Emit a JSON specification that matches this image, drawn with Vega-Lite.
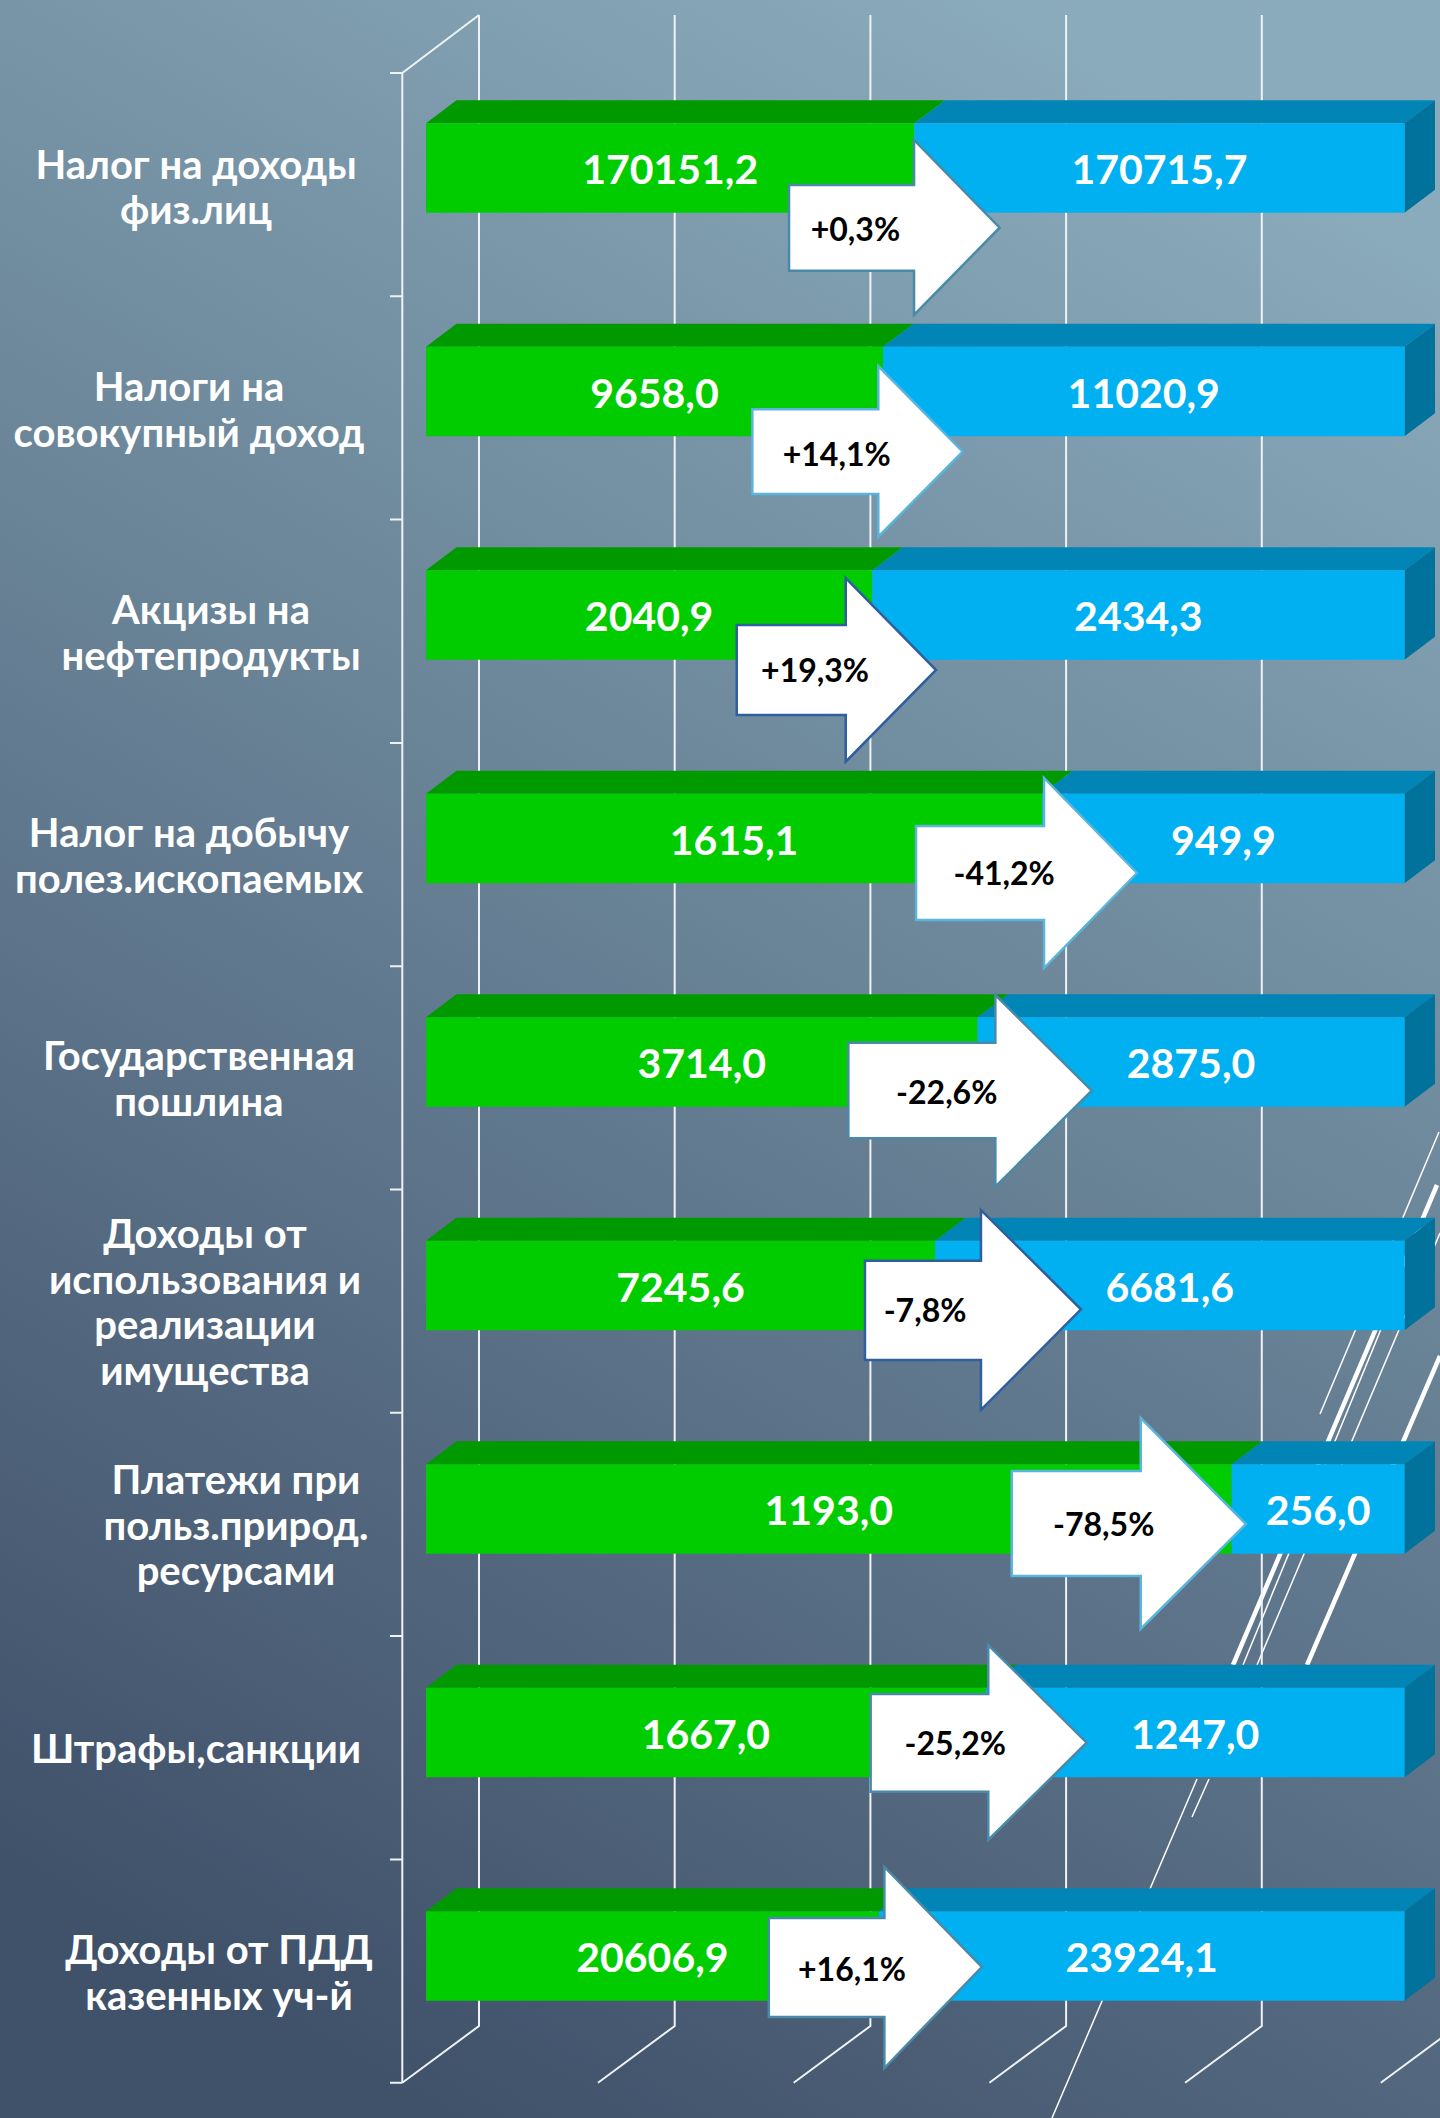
{
"$schema":"https://vega.github.io/schema/vega-lite/v6.json",
"width":1440,"height":2118,"padding":0,
"autosize":"none",
"background":"#62798c",
"config":{"view":{"stroke":null,"fill":{"gradient":"linear","x1":0.7,"y1":0,"x2":0.3,"y2":1,"stops":[{"offset":0,"color":"#8aabbb"},{"offset":1,"color":"#40516a"}]}}},
"params":[
{"name":"labelDx","value":[-230,-237,-215,-237,-227,-221,-190,-230,-207]},
{"name":"labelDy","value":[-1.5,-2.3,-2.8,-3.4,-4,-49.2,-26.8,18,-3.7]},
{"name":"chgDx","value":[-59,-46.3,-57.2,-38,-30.8,-10,-127.9,-30.5,-26.8]},
{"name":"chgDy","value":[62.5,64,57.2,36,31.5,26.5,16.5,12,14.5]}
],
"datasets":{
"ticks":[{"tick":0},{"tick":0.2},{"tick":0.4},{"tick":0.6},{"tick":0.8},{"tick":1}],
"rows":[
{"n":0,"label":"Налог на доходы\nфиз.лиц","series":"a","value":170151.2,"text":"170151,2","change":"+0,3%"},
{"n":0,"label":"Налог на доходы\nфиз.лиц","series":"b","value":170715.7,"text":"170715,7","change":"+0,3%"},
{"n":1,"label":"Налоги на\nсовокупный доход","series":"a","value":9658.0,"text":"9658,0","change":"+14,1%"},
{"n":1,"label":"Налоги на\nсовокупный доход","series":"b","value":11020.9,"text":"11020,9","change":"+14,1%"},
{"n":2,"label":"Акцизы на\nнефтепродукты","series":"a","value":2040.9,"text":"2040,9","change":"+19,3%"},
{"n":2,"label":"Акцизы на\nнефтепродукты","series":"b","value":2434.3,"text":"2434,3","change":"+19,3%"},
{"n":3,"label":"Налог на добычу\nполез.ископаемых","series":"a","value":1615.1,"text":"1615,1","change":"-41,2%"},
{"n":3,"label":"Налог на добычу\nполез.ископаемых","series":"b","value":949.9,"text":"949,9","change":"-41,2%"},
{"n":4,"label":"Государственная\nпошлина","series":"a","value":3714.0,"text":"3714,0","change":"-22,6%"},
{"n":4,"label":"Государственная\nпошлина","series":"b","value":2875.0,"text":"2875,0","change":"-22,6%"},
{"n":5,"label":"Доходы от\nиспользования  и\nреализации\nимущества","series":"a","value":7245.6,"text":"7245,6","change":"-7,8%"},
{"n":5,"label":"Доходы от\nиспользования  и\nреализации\nимущества","series":"b","value":6681.6,"text":"6681,6","change":"-7,8%"},
{"n":6,"label":"Платежи при\nпольз.природ.\nресурсами","series":"a","value":1193.0,"text":"1193,0","change":"-78,5%"},
{"n":6,"label":"Платежи при\nпольз.природ.\nресурсами","series":"b","value":256.0,"text":"256,0","change":"-78,5%"},
{"n":7,"label":"Штрафы,санкции","series":"a","value":1667.0,"text":"1667,0","change":"-25,2%"},
{"n":7,"label":"Штрафы,санкции","series":"b","value":1247.0,"text":"1247,0","change":"-25,2%"},
{"n":8,"label":"Доходы от ПДД\nказенных уч-й","series":"a","value":20606.9,"text":"20606,9","change":"+16,1%"},
{"n":8,"label":"Доходы от ПДД\nказенных уч-й","series":"b","value":23924.1,"text":"23924,1","change":"+16,1%"}
]},
"data":{"name":"rows"},
"transform":[
{"stack":"value","groupby":["n"],"sort":[{"field":"series","order":"ascending"}],"offset":"normalize","as":["x0","x1"]},
{"calculate":"(datum.x0+datum.x1)/2","as":"xm"}
],
"resolve":{"scale":{"shape":"independent","color":"independent","stroke":"independent"}},
"layer":[
{"data":{"name":"ticks"},"transform":[{"filter":"datum.tick==0"}],
 "mark":{"type":"point","size":4,"filled":false,"fill":null,"stroke":"#ffffff","strokeWidth":1.5,"opacity":1,"shape":"M35.5,-723L-147.5,-291M34.5,-824L-84.5,-542M-11.5,-656L-161.5,-291M-207.5,-177L-352.5,162M-195.5,-177L-212.5,-139"},
 "encoding":{"x":{"datum":1,"type":"quantitative","scale":{"domain":[0,1],"range":[426,1404.5]},"axis":null},
  "y":{"datum":"Доходы от ПДД\nказенных уч-й","type":"nominal","scale":{"type":"band","domain":["Налог на доходы\nфиз.лиц","Налоги на\nсовокупный доход","Акцизы на\nнефтепродукты","Налог на добычу\nполез.ископаемых","Государственная\nпошлина","Доходы от\nиспользования  и\nреализации\nимущества","Платежи при\nпольз.природ.\nресурсами","Штрафы,санкции","Доходы от ПДД\nказенных уч-й"],"range":[56.25,2067.75],"paddingInner":0,"paddingOuter":0},"axis":null}}},
{"data":{"name":"ticks"},"transform":[{"filter":"datum.tick==0"}],
 "mark":{"type":"point","size":4,"filled":false,"fill":null,"stroke":"#ffffff","strokeWidth":4.5,"opacity":1,"shape":"M32.5,-771L-171.5,-291M35.5,-600L-97.5,-291"},
 "encoding":{"x":{"datum":1,"type":"quantitative"},"y":{"datum":"Доходы от ПДД\nказенных уч-й","type":"nominal"}}},
{"data":{"name":"ticks"},
 "mark":{"type":"point","size":4,"filled":false,"fill":null,"stroke":"#eef2f4","strokeWidth":2,"opacity":1,"shape":"M-23.7,126.7L53,70L53,-1941"},
 "encoding":{"x":{"field":"tick","type":"quantitative"},"y":{"datum":"Доходы от ПДД\nказенных уч-й","type":"nominal"}}},
{"data":{"name":"ticks"},"transform":[{"filter":"datum.tick==0"}],
 "mark":{"type":"point","size":4,"filled":false,"fill":null,"stroke":"#eef2f4","strokeWidth":2,"opacity":1,"shape":"M-23.7,126.7L-23.7,-1883L53,-1941M-36,126.7H-23.7M-36,-96.6H-23.7M-36,-319.9H-23.7M-36,-543.2H-23.7M-36,-766.5H-23.7M-36,-989.8H-23.7M-36,-1213.1H-23.7M-36,-1436.4H-23.7M-36,-1659.7H-23.7M-36,-1883H-23.7"},
 "encoding":{"x":{"field":"tick","type":"quantitative"},"y":{"datum":"Доходы от ПДД\nказенных уч-й","type":"nominal"}}},
{"transform":[{"filter":"datum.series=='b'"}],
 "mark":{"type":"point","size":4,"filled":true,"fill":"#0085b6","stroke":null,"opacity":1},
 "encoding":{"x":{"field":"x0","type":"quantitative"},"y":{"field":"label","type":"nominal"},
  "shape":{"field":"n","type":"nominal","legend":null,"scale":{"domain":[0,1,2,3,4,5,6,7,8],"range":[
  "M0,-44.7L490.1,-44.7L520.6,-67.7L30.5,-67.7Z","M0,-44.7L521.5,-44.7L552,-67.7L30.5,-67.7Z","M0,-44.7L532.3,-44.7L562.8,-67.7L30.5,-67.7Z","M0,-44.7L362.4,-44.7L392.9,-67.7L30.5,-67.7Z","M0,-44.7L427,-44.7L457.5,-67.7L30.5,-67.7Z","M0,-44.7L469.4,-44.7L499.9,-67.7L30.5,-67.7Z","M0,-44.7L172.9,-44.7L203.4,-67.7L30.5,-67.7Z","M0,-44.7L418.7,-44.7L449.2,-67.7L30.5,-67.7Z","M0,-44.7L525.7,-44.7L556.2,-67.7L30.5,-67.7Z"]}}}},
{"transform":[{"filter":"datum.series=='a'"}],
 "mark":{"type":"point","size":4,"filled":true,"fill":"#009a00","stroke":null,"opacity":1},
 "encoding":{"x":{"field":"x0","type":"quantitative"},"y":{"field":"label","type":"nominal"},
  "shape":{"field":"n","type":"nominal","legend":null,"scale":{"domain":[0,1,2,3,4,5,6,7,8],"range":[
  "M0,-44.7L488.4,-44.7L518.9,-67.7L30.5,-67.7Z","M0,-44.7L457,-44.7L487.5,-67.7L30.5,-67.7Z","M0,-44.7L446.2,-44.7L476.7,-67.7L30.5,-67.7Z","M0,-44.7L616.1,-44.7L646.6,-67.7L30.5,-67.7Z","M0,-44.7L551.5,-44.7L582,-67.7L30.5,-67.7Z","M0,-44.7L509.1,-44.7L539.6,-67.7L30.5,-67.7Z","M0,-44.7L805.6,-44.7L836.1,-67.7L30.5,-67.7Z","M0,-44.7L559.8,-44.7L590.3,-67.7L30.5,-67.7Z","M0,-44.7L452.8,-44.7L483.3,-67.7L30.5,-67.7Z"]}}}},
{"transform":[{"filter":"datum.series=='b'"}],
 "mark":{"type":"point","size":4,"filled":true,"fill":"#00729c","stroke":null,"opacity":1,"shape":"M0,-44.7L30.5,-67.7L30.5,21.7L0,44.7Z"},
 "encoding":{"x":{"field":"x1","type":"quantitative"},"y":{"field":"label","type":"nominal"}}},
{"mark":{"type":"bar","size":89.4},
 "encoding":{"x":{"field":"x0","type":"quantitative"},"x2":{"field":"x1"},"y":{"field":"label","type":"nominal"},
  "color":{"field":"series","type":"nominal","legend":null,"scale":{"domain":["a","b"],"range":["#00cc00","#00b0f0"]}}}},
{"transform":[{"filter":"datum.series=='a'"}],
 "mark":{"type":"point","size":4,"filled":true,"fill":"#ffffff","strokeWidth":2.5,"opacity":1},
 "encoding":{"x":{"field":"x1","type":"quantitative"},"y":{"field":"label","type":"nominal"},
  "stroke":{"field":"n","type":"nominal","legend":null,"scale":{"domain":[0,1,2,3,4,5,6,7,8],"range":["#4a8aa8","#5ab4dc","#2f5f9e","#5ab4dc","#4a8aa8","#2f5f9e","#5ab4dc","#4a8aa8","#4a8aa8"]}},
  "shape":{"field":"n","type":"nominal","legend":null,"scale":{"domain":[0,1,2,3,4,5,6,7,8],"range":[
  "M-125.4,17L-0.4,17L-0.4,-28L85.2,59.7L-0.4,147L-0.4,102.7L-125.4,102.7Z",
  "M-130.7,17.8L-4.7,17.8L-4.7,-25.5L79.7,60.2L-4.7,145.2L-4.7,102.5L-130.7,102.5Z",
  "M-135.5,10L-26.5,10L-26.5,-37L63.8,55L-26.5,146.7L-26.5,100L-135.5,100Z",
  "M-126.1,-12.5L1.9,-12.5L1.9,-60.5L94.9,34.5L1.9,129.5L1.9,81.5L-126.1,81.5Z",
  "M-129.2,-19.3L17.8,-19.3L17.8,-67L114.2,28.7L17.8,124.7L17.8,76.3L-129.2,76.3Z",
  "M-70.1,-24.8L45.9,-24.8L45.9,-75.5L145.9,23.8L45.9,124.5L45.9,74.5L-70.1,74.5Z",
  "M-219.9,-38L-90.9,-38L-90.9,-91L14.4,15L-90.9,120L-90.9,67L-219.9,67Z",
  "M-115.1,-38.5L2.5,-38.5L2.5,-87.5L100.9,10.2L2.5,107.5L2.5,59.2L-115.1,59.2Z",
  "M-110,-38L5.6,-38L5.6,-89L103,11L5.6,112L5.6,61L-110,61Z"]}}}},
{"mark":{"type":"text","font":"Lato","fontWeight":"bold","fontSize":41,"fill":"#ffffff","align":"center","baseline":"middle","dy":4},
 "encoding":{"x":{"field":"xm","type":"quantitative"},"y":{"field":"label","type":"nominal"},"text":{"field":"text"}}},
{"transform":[{"filter":"datum.series=='a'"}],
 "mark":{"type":"text","font":"Lato","fontWeight":"bold","fontSize":32,"fill":"#000000","align":"center","baseline":"middle","dx":{"expr":"chgDx[datum.n]"},"dy":{"expr":"chgDy[datum.n]"}},
 "encoding":{"x":{"field":"x1","type":"quantitative"},"y":{"field":"label","type":"nominal"},"text":{"field":"change"}}},
{"transform":[{"filter":"datum.series=='a'"}],
 "mark":{"type":"text","font":"Lato","fontWeight":"bold","fontSize":40,"fill":"#ffffff","align":"center","baseline":"middle","lineBreak":"\n","lineHeight":45.5,"dx":{"expr":"labelDx[datum.n]"},"dy":{"expr":"labelDy[datum.n]"}},
 "encoding":{"x":{"datum":0,"type":"quantitative"},"y":{"field":"label","type":"nominal"},"text":{"field":"label"}}}
]
}
